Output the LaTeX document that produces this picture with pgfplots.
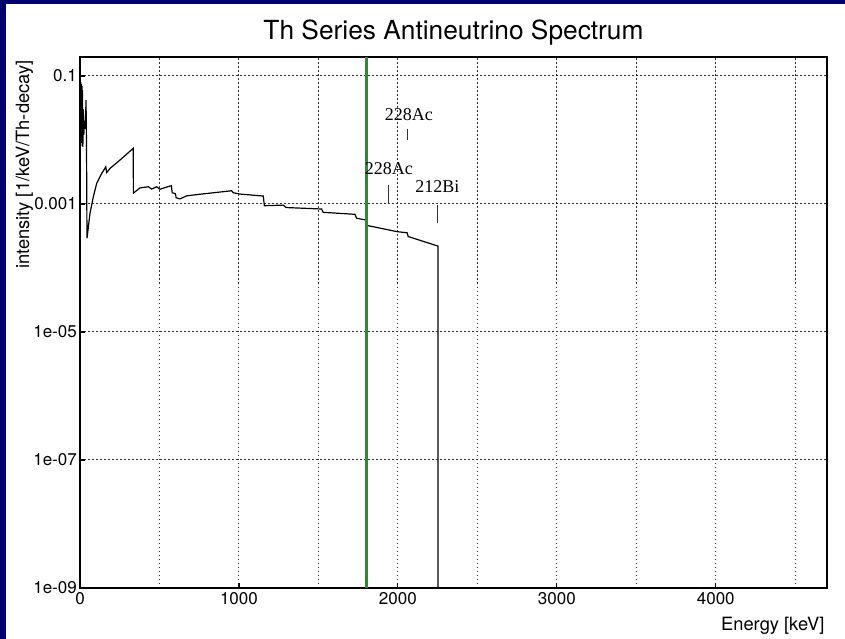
\documentclass[border=0pt]{standalone}
\usepackage{fontspec}
\setmainfont{TeX Gyre Heros}
\newfontfamily\annfont{Liberation Serif}
\usepackage{pgfplots}
\pgfplotsset{compat=1.18}

\definecolor{frame}{RGB}{0,0,110}
\definecolor{vline}{RGB}{30,150,30}

% Th-232 chain antineutrino spectrum (energy in keV, intensity per keV per decay)
\pgfplotstableread{
E        I
0.5      0.02
2        0.09
3        0.012
5        0.08
6        0.009
8        0.075
10       0.01
12       0.07
14       0.008
16       0.06
18       0.0078
21       0.03
24       0.012
28       0.02
33       0.015
38       0.042
41       0.008
44       2.9e-4
63       7.2e-4
84       1.3e-3
105      2.1e-3
136      3.0e-3
157      3.6e-3
162      3.8e-3
168      3.1e-3
189      3.6e-3
252      4.87e-3
335      7.4e-3
336      1.48e-3
377      1.78e-3
430      1.86e-3
451      1.71e-3
482      1.86e-3
503      1.70e-3
539      1.82e-3
575      1.93e-3
580      1.5e-3
600      1.45e-3
605      1.25e-3
629      1.2e-3
671      1.34e-3
755      1.42e-3
954      1.61e-3
964      1.50e-3
1006     1.43e-3
1153     1.33e-3
1160     9.4e-4
1279     9.6e-4
1296     8.8e-4
1520     8.35e-4
1530     7.4e-4
1730     6.9e-4
1740     6.0e-4
1800     5.6e-4
1810     4.6e-4
1994     3.7e-4
2058     3.55e-4
2065     3.1e-4
2252     2.2e-4
2252     1e-9
}\spectrum

\begin{document}
\begin{tikzpicture}[x=1pt,y=1pt]
  % page background with the dark frame on the left and top
  \fill[frame] (0,0) rectangle (845,639);
  \fill[white] (6,0) rectangle (845,635);
  \path[use as bounding box] (0,0) rectangle (845,639);

  \begin{axis}[
    at={(80pt,51pt)}, anchor=south west,
    scale only axis, width=747pt, height=531pt,
    xmin=0, xmax=4700,
    ymode=log, ymin=1e-9, ymax=0.198,
    xtick={0,1000,2000,3000,4000},
    xticklabels={0,1000,2000,3000,4000},
    minor xtick={500,1500,2500,3500,4500},
    ytick={1e-9,1e-7,1e-5,1e-3,1e-1},
    yticklabels={1e-09,1e-07,1e-05,0.001,0.1},
    minor ytick={},
    tick pos=left, tick align=inside,
    major tick length=5pt, minor tick length=0pt,
    tick style={black, line width=1.2pt},
    axis line style={black, line width=2pt},
    grid=both,
    major grid style={black!80, line width=1pt, dash pattern=on 1.5pt off 2.5pt},
    minor grid style={black!80, line width=1pt, dash pattern=on 1.5pt off 2.5pt},
    ticklabel style={font=\fontsize{17}{20}\selectfont},
    xticklabel style={inner sep=0pt, yshift=-4pt},
    yticklabel style={inner sep=0pt, xshift=-3pt},
  ]
    \addplot[black, line width=1.2pt] table[x=E, y=I] {\spectrum};
    \addplot[vline, line width=3pt] coordinates {(1805,1e-9) (1805,0.198)};

    \node[font=\annfont\fontsize{18}{20}\selectfont] at (axis cs:2069,0.0246) {228Ac};
    \draw[black!80, line width=1pt] (axis cs:2063,0.01486) -- (axis cs:2063,0.01);
    \node[font=\annfont\fontsize{18}{20}\selectfont] at (axis cs:1943,0.00359) {228Ac};
    \draw[black!80, line width=1pt] (axis cs:1943,0.00198) -- (axis cs:1943,0.001038);
    \node[font=\annfont\fontsize{18}{20}\selectfont] at (axis cs:2248,0.001875) {212Bi};
    \draw[black!80, line width=1pt] (axis cs:2252,0.000964) -- (axis cs:2252,0.000505);
  \end{axis}

  \node[anchor=base, font=\fontsize{26.3}{31}\selectfont] at (453.5,599) {Th Series Antineutrino Spectrum};
  \node[anchor=base east, font=\fontsize{18.3}{22}\selectfont] at (828,8) {Energy [keV]};
  \node[anchor=base east, rotate=90, font=\fontsize{18.3}{22}\selectfont] at (29,582) {intensity [1/keV/Th-decay]};
\end{tikzpicture}
\end{document}
